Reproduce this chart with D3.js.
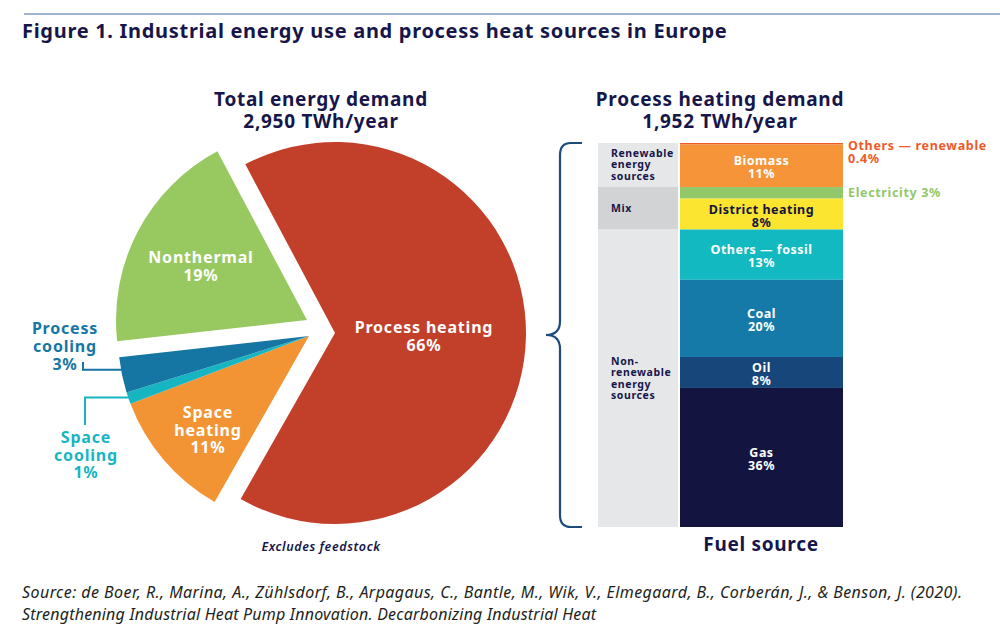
<!DOCTYPE html>
<html><head><meta charset="utf-8">
<script src="https://cdn.jsdelivr.net/npm/d3@7"></script>
<style>
body{margin:0;background:#fff;}
</style></head>
<body>
<svg id="c" width="1000" height="637" font-family="'Noto Sans', sans-serif"></svg>
<script>
// ---- data ----
const pieCategories = ["Process heating","Space heating","Space cooling","Process cooling","Nonthermal"];
const pieValues = [66, 11, 1, 3, 19];
const pieLabels = ["66%","11%","1%","3%","19%"];
const pieColors = ["#c23f2a","#f39434","#17b5c2","#1676a3","#97c960"];

const fuelCategories = ["Others — renewable","Biomass","Electricity","District heating","Others — fossil","Coal","Oil","Gas"];
const fuelValues = [0.4, 11, 3, 8, 13, 20, 8, 36];
const fuelLabels = ["0.4%","11%","3%","8%","13%","20%","8%","36%"];
const fuelColors = ["#ee5a2a","#f6943a","#93c86a","#fbe530","#12b9c1","#167aa8","#16467a","#141440"];
const fuelTextColors = [null,"#fff",null,"#141440","#fff","#fff","#fff","#fff"];

const groupNames = [["Renewable","energy","sources"],["Mix"],["Non-","renewable","energy","sources"]];
const groupSpans = [[0,2],[2,4],[4,8]]; // index ranges into fuel arrays

const sourceLines = ["Source: de Boer, R., Marina, A., Zühlsdorf, B., Arpagaus, C., Bantle, M., Wik, V., Elmegaard, B., Corberán, J., & Benson, J. (2020).","Strengthening Industrial Heat Pump Innovation. Decarbonizing Industrial Heat"];

const svg = d3.select("#c");
const navy = "#16164a";

function txt(x,y,s,attrs){ const t=svg.append("text").attr("x",x).attr("y",y).text(s); Object.entries(attrs).forEach(([k,v])=>t.attr(k,v)); return t; }
function multi(g, x, y, lines, lh, attrs){
  const t = g.append("text").attr("x",x).attr("y",y);
  Object.entries(attrs).forEach(([k,v])=>t.attr(k,v));
  lines.forEach((l,j)=>t.append("tspan").attr("x",x).attr("dy",j?lh:0).text(l));
  return t;
}

// top rule + title
svg.append("line").attr("x1",24).attr("x2",1000).attr("y1",14).attr("y2",14).attr("stroke","#7f9dbf").attr("stroke-width",1.5);
txt(22,38,"Figure 1. Industrial energy use and process heat sources in Europe",{"fill":navy,"font-size":20,"font-weight":700,"letter-spacing":0.7});

// ---- pie ----
const cx = 335, cy = 333, R = 191;
const deg = Math.PI/180;
const pie = d3.pie().sort(null).startAngle(-28*deg).endAngle(332*deg);
const arcs = pie(pieValues);
const arc = d3.arc().innerRadius(0).outerRadius(R);
const offsets = [[0,0],[-26,3],[-26,3],[-26,3],[-28,-13]];

const pg = svg.append("g").attr("transform",`translate(${cx},${cy})`);
arcs.forEach((a,i)=>{
  pg.append("path").attr("d",arc(a)).attr("fill",pieColors[i])
    .attr("transform",`translate(${offsets[i][0]},${offsets[i][1]})`);
});
function pt(i, ang, r){ return [cx+offsets[i][0]+r*Math.sin(ang), cy+offsets[i][1]-r*Math.cos(ang)]; }

const h2 = {"text-anchor":"middle","fill":navy,"font-size":19,"font-weight":700,"letter-spacing":0.7};
txt(321,106,"Total energy demand",h2);
txt(321,128,"2,950 TWh/year",h2);

const inLbl = {"text-anchor":"middle","fill":"#fff","font-size":16,"font-weight":700,"letter-spacing":0.8};
multi(svg, 424, 333, ["Process heating", pieLabels[0]], 18, inLbl);
multi(svg, 201, 262.5, ["Nonthermal", pieLabels[4]], 18, inLbl);
multi(svg, 208, 418, ["Space", "heating", pieLabels[1]], 17.5, inLbl);

// process cooling callout
const pcMid = (arcs[3].startAngle+arcs[3].endAngle)/2;
const pcPt = pt(3, pcMid, R-2);
svg.append("path").attr("d",`M${83},${362}V${pcPt[1]-5}H${pcPt[0]}`).attr("fill","none").attr("stroke",pieColors[3]).attr("stroke-width",2);
multi(svg, 65, 334, ["Process","cooling",pieLabels[3]], 18, Object.assign({},inLbl,{"fill":pieColors[3]}));
// space cooling callout
const scMid = (arcs[2].startAngle+arcs[2].endAngle)/2;
const scPt = pt(2, scMid, R-2);
svg.append("path").attr("d",`M${scPt[0]},${scPt[1]}H${85}V${425}`).attr("fill","none").attr("stroke",pieColors[2]).attr("stroke-width",2);
multi(svg, 86, 443, ["Space","cooling",pieLabels[2]], 17.5, Object.assign({},inLbl,{"fill":pieColors[2]}));

txt(321,551,"Excludes feedstock",{"text-anchor":"middle","fill":navy,"font-size":12.5,"font-style":"italic","font-weight":600,"letter-spacing":0.6});

// ---- stacked bar ----
const total = d3.sum(fuelValues);
const y = d3.scaleLinear().domain([0,total]).range([143,527]);
const bx0 = 680, bx1 = 843, gx0 = 598, gx1 = 678;
let cum = 0;
const segs = fuelValues.map((v,i)=>{ const s={i,y0:y(cum),y1:y(cum+v)}; cum+=v; return s; });
segs.forEach(s=>{
  svg.append("rect").attr("x",bx0).attr("width",bx1-bx0).attr("y",s.y0).attr("height",Math.max(1.5,s.y1-s.y0)).attr("fill",fuelColors[s.i]);
});
const barLbl = {"text-anchor":"middle","font-size":12.5,"font-weight":700,"letter-spacing":0.5};
segs.forEach(s=>{
  const c = fuelTextColors[s.i];
  if(!c) return;
  const mid = (s.y0+s.y1)/2;
  multi(svg, (bx0+bx1)/2, mid-0.5, [fuelCategories[s.i], fuelLabels[s.i]], 13, Object.assign({},barLbl,{"fill":c}));
});
const outLbl = {"font-size":12.5,"font-weight":700,"letter-spacing":0.65};
multi(svg, 848, 150, [fuelCategories[0], fuelLabels[0]], 12.5, Object.assign({},outLbl,{"fill":fuelColors[0]}));
txt(848,197,fuelCategories[2]+" "+fuelLabels[2],Object.assign({},outLbl,{"fill":fuelColors[2]}));

// group column
const groupFills = ["#e6e7e9","#d2d3d5","#e6e7e9"];
groupSpans.forEach((sp,k)=>{
  const y0 = segs[sp[0]].y0, y1 = segs[sp[1]-1].y1;
  svg.append("rect").attr("x",gx0).attr("width",gx1-gx0).attr("y",y0).attr("height",y1-y0).attr("fill",groupFills[k]);
});
const gl = {"fill":navy,"font-size":10.5,"font-weight":700,"letter-spacing":0.6};
multi(svg, 611, 156.5, groupNames[0], 11.5, gl);
multi(svg, 611, 211.5, groupNames[1], 11.5, gl);
multi(svg, 611, 364.5, groupNames[2], 11.5, gl);

// brace
const bTop = y(0), bBot = y(total), bMid = (bTop+bBot)/2;
svg.append("path").attr("fill","none").attr("stroke","#1c4b7d").attr("stroke-width",2.2)
  .attr("d",`M582,${bTop}H571Q560,${bTop} 560,${bTop+12}V${bMid-14}Q560,${bMid} 546,${bMid}Q560,${bMid} 560,${bMid+14}V${bBot-12}Q560,${bBot} 571,${bBot}H582`);

txt(720,106,"Process heating demand",h2);
txt(720,128,"1,952 TWh/year",h2);
txt(761,551,"Fuel source",h2);

// source
txt(22,598,sourceLines[0],{"fill":"#231f20","font-size":16,"font-style":"italic","letter-spacing":0.43});
txt(22,620,sourceLines[1],{"fill":"#231f20","font-size":16,"font-style":"italic","letter-spacing":0.2});
</script>
</body></html>
